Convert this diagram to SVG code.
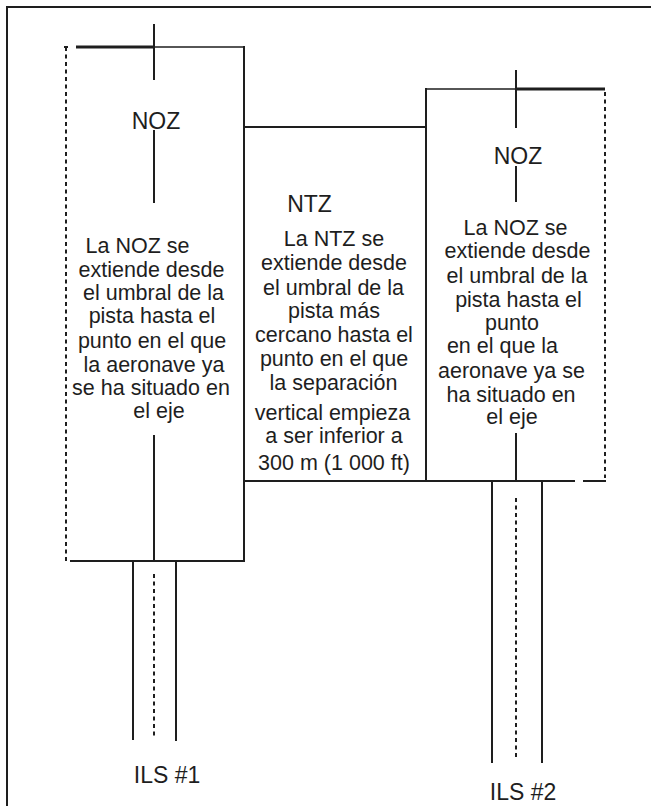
<svg xmlns="http://www.w3.org/2000/svg" width="651" height="806" viewBox="0 0 651 806">
<style>
.ln{stroke:#1e1e1e;stroke-width:2;fill:none}
.thin{stroke:#1e1e1e;stroke-width:1.5;fill:none}
.thick{stroke:#1e1e1e;stroke-width:3;fill:none}
.dot{stroke:#1e1e1e;stroke-width:2;fill:none;stroke-dasharray:4 3.5}
.t{font-family:"Liberation Sans",Arial,sans-serif;font-size:21.5px;fill:#1e1e1e;text-anchor:middle}
.h{font-family:"Liberation Sans",Arial,sans-serif;font-size:23px;fill:#1e1e1e;text-anchor:middle}
</style>
<rect width="651" height="806" fill="#fff"/>
<g id="border">
<path class="ln" d="M7,806 V7 H651"/>
</g>
<g id="noz1">
<path class="dot" d="M66,47 V561"/>
<path class="ln" d="M64,47 H68"/>
<path class="thick" d="M76,47 H154"/>
<path class="thin" d="M154,47 H244"/>
<path class="ln" d="M244,46 V562 M70,561 H245"/>
<path class="ln" d="M154,24 V80 M154,130 V203 M154,435 V561"/>
<text class="h" x="156" y="129">NOZ</text>
<text class="t" x="137.5" y="253">La NOZ se</text>
<text class="t" x="151.5" y="277">extiende desde</text>
<text class="t" x="153.5" y="300">el umbral de la</text>
<text class="t" x="152" y="323">pista hasta el</text>
<text class="t" x="152" y="348">punto en el que</text>
<text class="t" x="154" y="372">la aeronave ya</text>
<text class="t" x="151" y="395">se ha situado en</text>
<text class="t" x="159" y="418">el eje</text>
</g>
<g id="ntz">
<path class="ln" d="M244,127 H426"/>
<path class="ln" d="M244,481 H575 M583,481 H606"/>
<text class="h" x="309.5" y="212">NTZ</text>
<text class="t" x="334" y="246">La NTZ se</text>
<text class="t" x="334" y="270">extiende desde</text>
<text class="t" x="333.5" y="295">el umbral de la</text>
<text class="t" x="334" y="318">pista más</text>
<text class="t" x="334" y="342">cercano hasta el</text>
<text class="t" x="334" y="366">punto en el que</text>
<text class="t" x="333.5" y="390">la separación</text>
<text class="t" x="332.5" y="420">vertical empieza</text>
<text class="t" x="334" y="443">a ser inferior a</text>
<text class="t" x="334" y="470">300 m (1 000 ft)</text>
</g>
<g id="noz2">
<path class="ln" d="M426,88 V482"/>
<path class="thin" d="M426,89 H516"/>
<path class="thick" d="M516,89 H605"/>
<path class="dot" d="M605,92 V478"/>
<path class="ln" d="M516,70 V128 M516,166 V202 M516,433 V481"/>
<text class="h" x="518" y="164">NOZ</text>
<text class="t" x="515.5" y="235">La NOZ se</text>
<text class="t" x="517.5" y="258">extiende desde</text>
<text class="t" x="517" y="283">el umbral de la</text>
<text class="t" x="518.5" y="307">pista hasta el</text>
<text class="t" x="512" y="330">punto</text>
<text class="t" x="502.5" y="353">en el que la</text>
<text class="t" x="511.5" y="378">aeronave ya se</text>
<text class="t" x="511" y="402">ha situado en</text>
<text class="t" x="512" y="424">el eje</text>
</g>
<g id="connectors">
<g id="ils1">
<path class="ln" d="M133,561 V740 M176,561 V741"/>
<path class="dot" d="M154,574 V738"/>
<text class="h" x="167" y="783">ILS #1</text>
</g>
<g id="ils2">
<path class="ln" d="M492,481 V763 M542,481 V763"/>
<path class="dot" d="M516,498 V758"/>
<text class="h" x="523" y="800">ILS #2</text>
</g>
</g>
</svg>
